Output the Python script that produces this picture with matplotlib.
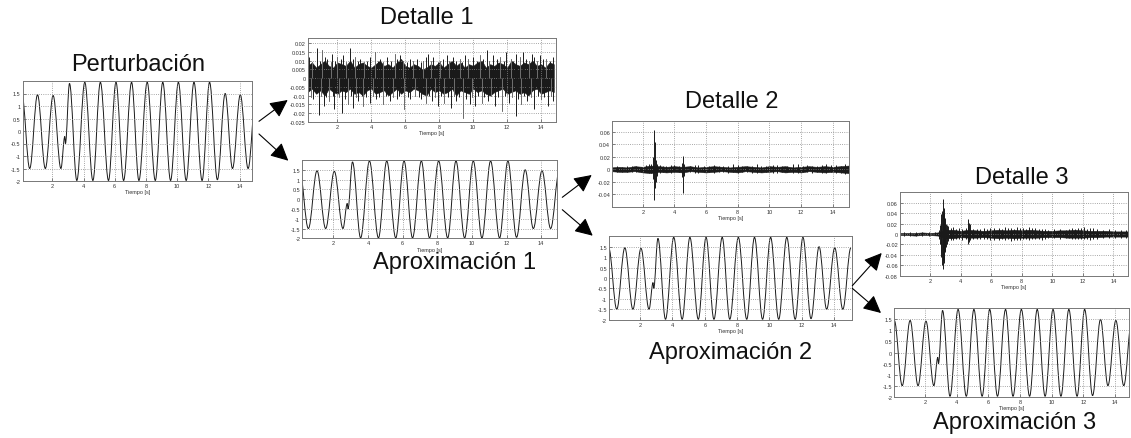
import numpy as np
import matplotlib
matplotlib.use('Agg')
import matplotlib.pyplot as plt
from matplotlib.path import Path
from matplotlib.patches import PathPatch, FancyArrowPatch

plt.rcParams['font.family'] = ['Liberation Sans', 'DejaVu Sans']

W, H = 1131, 439

# ---- data ----
# perturbation / approximations: times and values of the wave extrema
wave_t = [0.05, 0.55, 1.05, 1.55, 2.05, 2.55, 2.8, 2.84, 3.1, 3.57, 4.08, 4.6,
          5.08, 5.6, 6.08, 6.57, 7.08, 7.55, 8.08, 8.6, 9.08, 9.58, 10.08,
          10.58, 11.08, 11.6, 12.08, 12.58, 13.08, 13.55, 14.05, 14.55, 15.05]
wave_y = [1.45, -1.5, 1.45, -1.5, 1.42, -1.5, -0.22, -0.5, 1.9, -1.98, 1.95,
          -1.98, 1.95, -1.98, 1.95, -1.98, 1.95, -1.98, 1.95, -1.98, 1.95,
          -1.98, 1.95, -1.98, 1.95, -1.98, 1.95, -1.95, 1.5, -1.5, 1.45, -1.5,
          1.45]

# detalle 1: dense noise band (every 0.25 s) and spikes
d1_band_t = np.arange(0.25, 15.0, 0.25)
d1_band_hi = [0.007, 0.009, 0.006, 0.008, 0.010, 0.007, 0.006, 0.009, 0.008,
              0.007, 0.010, 0.006, 0.008, 0.009, 0.007, 0.006, 0.008, 0.010,
              0.007, 0.008, 0.006, 0.009, 0.011, 0.007, 0.006, 0.008, 0.007,
              0.005, 0.006, 0.008, 0.007, 0.009, 0.006, 0.008, 0.010, 0.007,
              0.009, 0.006, 0.008, 0.007, 0.009, 0.010, 0.006, 0.008, 0.007,
              0.009, 0.008, 0.006, 0.010, 0.008, 0.007, 0.009, 0.008, 0.010,
              0.007, 0.008, 0.006, 0.009, 0.008]
d1_band_lo = [-0.008, -0.006, -0.009, -0.007, -0.010, -0.006, -0.008, -0.009,
              -0.007, -0.008, -0.006, -0.009, -0.008, -0.010, -0.007, -0.006,
              -0.009, -0.008, -0.007, -0.010, -0.008, -0.006, -0.009, -0.007,
              -0.008, -0.006, -0.007, -0.009, -0.010, -0.006, -0.008, -0.007,
              -0.009, -0.008, -0.006, -0.010, -0.007, -0.008, -0.009, -0.006,
              -0.008, -0.007, -0.009, -0.010, -0.008, -0.007, -0.006, -0.009,
              -0.008, -0.007, -0.009, -0.008, -0.010, -0.007, -0.006, -0.009,
              -0.008, -0.007, -0.008]
d1_up_t = [0.33, 0.52, 0.79, 0.95, 1.08, 1.27, 1.38, 1.6, 1.67, 1.88, 1.96,
           2.2, 2.35, 2.5, 2.75, 2.9, 3.04, 3.2, 3.34, 3.55, 3.73, 3.95, 4.22,
           4.37, 4.51, 4.7, 4.9, 5.15, 5.39, 5.52, 5.69, 5.85, 6.08, 6.3, 6.45,
           6.67, 6.9, 7.06, 7.2, 7.35, 7.5, 7.65, 7.9, 8.04, 8.2, 8.43, 8.6,
           8.82, 9.0, 9.22, 9.35, 9.51, 9.7, 10.0, 10.2, 10.39, 10.55, 10.79,
           10.95, 11.18, 11.4, 11.57, 11.8, 11.96, 12.2, 12.35, 12.55, 12.75,
           12.94, 13.1, 13.3, 13.44, 13.6, 13.75, 13.92, 14.1, 14.32, 14.5,
           14.71]
d1_up_v = [0.012, 0.009, 0.017, 0.010, 0.016, 0.012, 0.011, 0.009, 0.014,
           0.010, 0.012, 0.011, 0.013, 0.009, 0.017, 0.011, 0.012, 0.010,
           0.011, 0.009, 0.010, 0.012, 0.015, 0.010, 0.011, 0.009, 0.012,
           0.010, 0.014, 0.011, 0.013, 0.010, 0.009, 0.011, 0.010, 0.011,
           0.009, 0.010, 0.012, 0.014, 0.010, 0.012, 0.009, 0.010, 0.011,
           0.013, 0.010, 0.012, 0.010, 0.011, 0.009, 0.013, 0.011, 0.012,
           0.010, 0.013, 0.011, 0.016, 0.010, 0.013, 0.011, 0.012, 0.010,
           0.015, 0.011, 0.010, 0.014, 0.012, 0.015, 0.011, 0.010, 0.014,
           0.012, 0.010, 0.013, 0.011, 0.011, 0.010, 0.012]
d1_dn_t = [0.42, 0.55, 0.9, 1.02, 1.2, 1.35, 1.5, 1.72, 1.8, 2.1, 2.3, 2.45,
           2.6, 2.82, 2.9, 3.1, 3.2, 3.42, 3.5, 3.7, 3.9, 4.1, 4.3, 4.45, 4.7,
           4.85, 5.1, 5.25, 5.5, 5.62, 5.9, 6.15, 6.3, 6.55, 6.8, 6.95, 7.2,
           7.42, 7.6, 7.75, 7.9, 8.12, 8.3, 8.5, 8.7, 8.85, 9.0, 9.15, 9.4,
           9.6, 9.8, 9.92, 10.1, 10.3, 10.5, 10.65, 10.9, 11.05, 11.3, 11.45,
           11.7, 11.85, 12.1, 12.3, 12.5, 12.65, 12.8, 13.0, 13.2, 13.38,
           13.6, 13.8, 14.0, 14.2, 14.4, 14.6, 14.7]
d1_dn_v = [-0.011, -0.012, -0.021, -0.010, -0.016, -0.011, -0.013, -0.010,
           -0.018, -0.011, -0.020, -0.012, -0.015, -0.010, -0.017, -0.011,
           -0.013, -0.010, -0.016, -0.011, -0.014, -0.010, -0.012, -0.011,
           -0.015, -0.010, -0.013, -0.011, -0.012, -0.010, -0.018, -0.011,
           -0.012, -0.010, -0.011, -0.012, -0.014, -0.010, -0.013, -0.011,
           -0.016, -0.010, -0.014, -0.011, -0.017, -0.010, -0.013, -0.011,
           -0.023, -0.012, -0.015, -0.011, -0.016, -0.010, -0.014, -0.011,
           -0.013, -0.010, -0.016, -0.011, -0.019, -0.010, -0.014, -0.011,
           -0.022, -0.012, -0.015, -0.010, -0.013, -0.011, -0.018, -0.010,
           -0.012, -0.011, -0.016, -0.010, -0.013]

# detalle 2: noise band (every 0.5 s) and bursts (time, high, low)
d2_band_t = np.arange(0.0, 15.5, 0.5)
d2_band_hi = [0.003, 0.004, 0.003, 0.005, 0.004, 0.006, 0.005, 0.004, 0.005,
              0.004, 0.005, 0.003, 0.004, 0.005, 0.004, 0.003, 0.004, 0.005,
              0.004, 0.003, 0.005, 0.004, 0.005, 0.003, 0.004, 0.005, 0.004,
              0.005, 0.004, 0.005, 0.006]
d2_band_lo = [-0.003, -0.004, -0.004, -0.003, -0.005, -0.006, -0.004, -0.005,
              -0.004, -0.005, -0.003, -0.004, -0.005, -0.004, -0.003, -0.004,
              -0.005, -0.003, -0.004, -0.005, -0.004, -0.003, -0.005, -0.004,
              -0.005, -0.003, -0.004, -0.005, -0.004, -0.005, -0.006]
d2_t = [0.4, 0.7, 1.0, 1.3, 1.6, 1.9, 2.2, 2.4, 2.5, 2.65, 2.71, 2.76, 2.82,
        2.9, 3.1, 3.3, 3.5, 3.8, 4.0, 4.3, 4.5, 4.56, 4.62, 5.0, 5.3, 5.5, 5.9,
        6.2, 6.5, 6.8, 7.1, 7.4, 7.7, 8.0, 8.3, 8.6, 8.9, 9.2, 9.5, 9.8, 10.2,
        10.5, 10.8, 11.1, 11.5, 11.8, 12.1, 12.4, 12.7, 13.0, 13.3, 13.6,
        13.9, 14.2, 14.5, 14.8]
d2_hi = [0.005, 0.004, 0.006, 0.005, 0.005, 0.004, 0.007, 0.009, 0.008, 0.02,
         0.063, 0.044, 0.015, 0.009, 0.007, 0.006, 0.006, 0.007, 0.007, 0.006,
         0.01, 0.021, 0.008, 0.006, 0.007, 0.007, 0.005, 0.006, 0.007, 0.005,
         0.006, 0.006, 0.008, 0.007, 0.006, 0.006, 0.005, 0.008, 0.006, 0.006,
         0.007, 0.007, 0.006, 0.006, 0.008, 0.009, 0.006, 0.007, 0.006, 0.006,
         0.007, 0.008, 0.007, 0.007, 0.006, 0.009]
d2_lo = [-0.004, -0.005, -0.005, -0.004, -0.004, -0.005, -0.005, -0.006,
         -0.006, -0.015, -0.049, -0.03, -0.02, -0.01, -0.006, -0.005, -0.005,
         -0.006, -0.005, -0.005, -0.012, -0.038, -0.01, -0.005, -0.006,
         -0.006, -0.005, -0.005, -0.006, -0.004, -0.005, -0.006, -0.005,
         -0.006, -0.005, -0.005, -0.006, -0.006, -0.005, -0.005, -0.006,
         -0.006, -0.005, -0.005, -0.006, -0.006, -0.005, -0.005, -0.006,
         -0.005, -0.006, -0.006, -0.005, -0.006, -0.006, -0.008]

# detalle 3: noise band (every 0.5 s) and bursts (time, high, low)
d3_band_t = np.arange(0.0, 15.5, 0.5)
d3_band_hi = [0.002, 0.002, 0.002, 0.003, 0.002, 0.003, 0.008, 0.008, 0.006,
              0.008, 0.007, 0.006, 0.007, 0.008, 0.007, 0.008, 0.007, 0.008,
              0.007, 0.006, 0.006, 0.007, 0.007, 0.008, 0.007, 0.006, 0.006,
              0.006, 0.005, 0.005, 0.005]
d3_band_lo = [-0.002, -0.002, -0.003, -0.002, -0.002, -0.003, -0.008,
              -0.008, -0.006, -0.007, -0.007, -0.006, -0.007, -0.008, -0.007,
              -0.008, -0.007, -0.007, -0.007, -0.006, -0.006, -0.006, -0.007,
              -0.007, -0.007, -0.006, -0.006, -0.005, -0.005, -0.005, -0.005]
d3_t = [0.3, 0.7, 1.1, 1.5, 1.9, 2.3, 2.6, 2.65, 2.7, 2.74, 2.78, 2.82, 2.85,
        2.88, 2.92, 2.96, 3.0, 3.05, 3.1, 3.2, 3.35, 3.5, 3.7, 3.9, 4.1, 4.35,
        4.45, 4.5, 4.55, 4.6, 4.8, 5.1, 5.3, 5.5, 5.7, 5.9, 6.2, 6.5, 6.7,
        6.9, 7.1, 7.3, 7.5, 7.7, 7.9, 8.1, 8.3, 8.5, 8.7, 8.9, 9.1, 9.3, 9.5,
        9.7, 10.1, 10.5, 10.9, 11.1, 11.3, 11.5, 11.7, 11.9, 12.1, 12.3, 12.5,
        12.7, 12.9, 13.3, 13.7, 14.1, 14.5, 14.8]
d3_hi = [0.003, 0.003, 0.004, 0.003, 0.004, 0.003, 0.008, 0.018, 0.03, 0.038,
         0.045, 0.04, 0.067, 0.05, 0.04, 0.03, 0.025, 0.02, 0.018, 0.015,
         0.012, 0.014, 0.01, 0.012, 0.009, 0.012, 0.015, 0.029, 0.022, 0.02,
         0.01, 0.01, 0.009, 0.011, 0.01, 0.012, 0.012, 0.011, 0.01, 0.013,
         0.011, 0.012, 0.01, 0.014, 0.012, 0.011, 0.01, 0.013, 0.011, 0.012,
         0.009, 0.01, 0.009, 0.008, 0.009, 0.01, 0.008, 0.009, 0.011, 0.01,
         0.012, 0.011, 0.013, 0.01, 0.012, 0.011, 0.01, 0.008, 0.009, 0.008,
         0.007, 0.008]
d3_lo = [-0.003, -0.004, -0.003, -0.003, -0.003, -0.002, -0.01, -0.02,
         -0.035, -0.045, -0.06, -0.05, -0.067, -0.055, -0.05, -0.035, -0.03,
         -0.025, -0.02, -0.014, -0.012, -0.012, -0.01, -0.01, -0.012, -0.01,
         -0.012, -0.019, -0.015, -0.012, -0.01, -0.009, -0.01, -0.01,
         -0.009, -0.011, -0.012, -0.012, -0.01, -0.011, -0.01, -0.013, -0.011,
         -0.012, -0.011, -0.01, -0.009, -0.012, -0.01, -0.01, -0.009, -0.011,
         -0.009, -0.008, -0.007, -0.009, -0.008, -0.008, -0.009, -0.01,
         -0.01, -0.009, -0.01, -0.01, -0.011, -0.009, -0.009, -0.008,
         -0.008, -0.007, -0.007, -0.007]

wave_ticks = [-2, -1.5, -1, -0.5, 0, 0.5, 1, 1.5]
d1_ticks = [-0.025, -0.02, -0.015, -0.01, -0.005, 0, 0.005, 0.01, 0.015, 0.02]
d2_ticks = [-0.04, -0.02, 0, 0.02, 0.04, 0.06]
d3_ticks = [-0.08, -0.06, -0.04, -0.02, 0, 0.02, 0.04, 0.06]
x_ticks = [2, 4, 6, 8, 10, 12, 14]

LINE = '#1a1a1a'
GRAY = '#707070'


def make_axes(fig, left, top, right, bottom, xlim, ylim, yticks):
    ax = fig.add_axes([left / W, 1 - bottom / H, (right - left) / W,
                       (bottom - top) / H])
    ax.set_xlim(xlim)
    ax.set_ylim(ylim)
    ax.set_xticks(x_ticks)
    ax.set_xticklabels([str(v) for v in x_ticks])
    ax.set_yticks(yticks)
    ax.set_yticklabels(['%g' % v for v in yticks])
    ax.tick_params(labelsize=4, length=2, width=0.5, direction='in',
                   pad=1.5, colors='#555555', labelcolor='#333333')
    ax.grid(True, linestyle=':', color='#8a8a8a', linewidth=0.6)
    for s in ax.spines.values():
        s.set_color('#777777')
        s.set_linewidth(0.7)
    ax.set_xlabel('Tiempo [s]', fontsize=4, labelpad=1, color='#333333')
    return ax


def wave(ax):
    verts = [(wave_t[0], wave_y[0])]
    codes = [Path.MOVETO]
    for i in range(1, len(wave_t)):
        d = wave_t[i] - wave_t[i - 1]
        verts += [(wave_t[i - 1] + 0.364 * d, wave_y[i - 1]),
                  (wave_t[i] - 0.364 * d, wave_y[i]),
                  (wave_t[i], wave_y[i])]
        codes += [Path.CURVE4] * 3
    ax.add_patch(PathPatch(Path(verts, codes), facecolor='none',
                           edgecolor=LINE, linewidth=0.7))


def noise(ax, bt, bhi, blo):
    ax.fill_between(bt, blo, bhi, color=LINE, linewidth=0.4, edgecolor=LINE)


fig = plt.figure(figsize=(W / 100, H / 100), dpi=100)

# Perturbacion
ax = make_axes(fig, 22.7, 82, 252, 182, (0.1, 14.8), (-2, 2), wave_ticks)
wave(ax)

# Detalle 1
ax = make_axes(fig, 307.7, 39, 556, 122.7, (0.25, 14.88), (-0.025, 0.023),
               d1_ticks)
ax.vlines(d1_up_t, 0, d1_up_v, color=LINE, linewidth=0.7)
ax.vlines(d1_dn_t, d1_dn_v, 0, color=LINE, linewidth=0.7)
ax.vlines(d1_up_t[1::3], 0, d1_up_v[1::3], color=GRAY, linewidth=0.7)
ax.vlines(d1_dn_t[::3], d1_dn_v[::3], 0, color=GRAY, linewidth=0.7)
noise(ax, d1_band_t, d1_band_hi, d1_band_lo)

# Aproximacion 1
ax = make_axes(fig, 302.3, 161, 556.7, 239.3, (0.2, 14.9), (-2, 2), wave_ticks)
wave(ax)

# Detalle 2
ax = make_axes(fig, 612.3, 121.7, 849.3, 207.7, (0.08, 15.05), (-0.06, 0.078),
               d2_ticks)
ax.vlines(d2_t, d2_lo, d2_hi, color=LINE, linewidth=0.7)
noise(ax, d2_band_t, d2_band_hi, d2_band_lo)

# Aproximacion 2
ax = make_axes(fig, 609, 237.3, 851.7, 320.7, (0.07, 15.1), (-2, 2), wave_ticks)
wave(ax)

# Detalle 3
ax = make_axes(fig, 900, 193.3, 1127.7, 276.7, (0.03, 14.94), (-0.08, 0.08),
               d3_ticks)
ax.vlines(d3_t, d3_lo, d3_hi, color=LINE, linewidth=0.7)
noise(ax, d3_band_t, d3_band_hi, d3_band_lo)

# Aproximacion 3
ax = make_axes(fig, 894.3, 309.3, 1129.3, 397.7, (0.05, 14.9), (-2, 2),
               wave_ticks)
wave(ax)

# titles
titles = [('Perturbación', 138.3, 65), ('Detalle 1', 426.7, 18),
          ('Aproximación 1', 455, 263), ('Detalle 2', 732, 101.7),
          ('Aproximación 2', 731, 353.3), ('Detalle 3', 1022, 178.3),
          ('Aproximación 3', 1015, 423.3)]
for txt, x, y in titles:
    fig.text(x / W, 1 - y / H, txt, ha='center', va='center', fontsize=17,
             color='#111111')

# arrows
arrows = [((259, 122.3), (287.7, 101)), ((259, 135), (288.3, 161.7)),
          ((562.3, 198.3), (591.7, 176)), ((562.3, 210.7), (592.7, 236.7)),
          ((852.3, 286.7), (881.7, 254)), ((852.3, 289.3), (881, 314))]
for (x0, y0), (x1, y1) in arrows:
    fig.add_artist(FancyArrowPatch((x0 / W, 1 - y0 / H), (x1 / W, 1 - y1 / H),
                                   transform=fig.transFigure,
                                   arrowstyle='-|>,head_length=0.6,head_width=0.3',
                                   mutation_scale=18, color='black',
                                   linewidth=0.8, shrinkA=0, shrinkB=0))

fig.savefig('out.png', dpi=100)
